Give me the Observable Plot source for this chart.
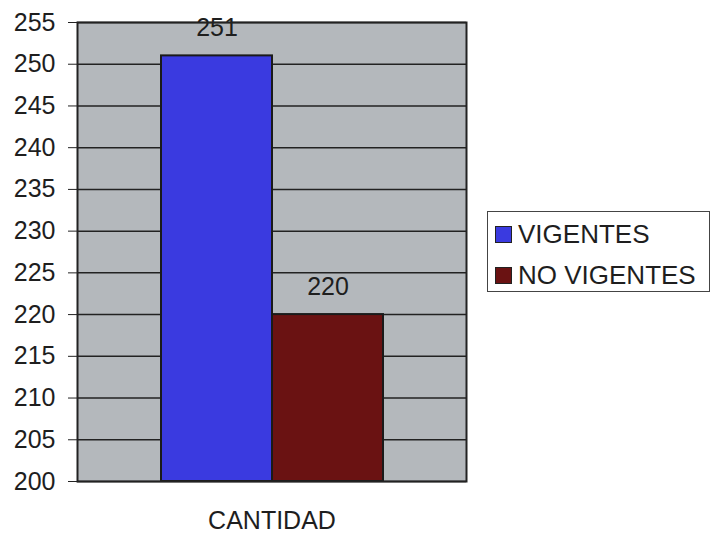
<!DOCTYPE html>
<html><head><meta charset="utf-8">
<script src="https://cdn.jsdelivr.net/npm/d3@7"></script>
<script src="https://cdn.jsdelivr.net/npm/@observablehq/plot@0.6"></script>
<style>
body{margin:0;background:#fff;font-family:"Liberation Sans",Arial,sans-serif;}
#wrap{position:relative;width:711px;height:534px;overflow:hidden;}
#legend{position:absolute;left:487px;top:211px;width:223px;height:81px;border:1px solid #444;box-sizing:border-box;background:#fff;}
.item{position:absolute;left:7px;display:flex;align-items:center;font-size:26px;line-height:26px;color:#1e1e1e;white-space:nowrap;}
.sw{width:17px;height:17px;border:1px solid #222;margin-right:6px;box-sizing:border-box;}
</style></head>
<body><div id="wrap"><div id="legend"></div></div>
<script>
const categories = ["VIGENTES", "NO VIGENTES"];
const values = [251, 220];
const colors = ["#3a3ae0", "#6a1212"];
const yTicks = [200,205,210,215,220,225,230,235,240,245,250,255];
const axisLabel = "CANTIDAD";

const data = categories.map((c, i) => ({cat: c, value: values[i], color: colors[i]}));

const chart = Plot.plot({
  width: 711, height: 534,
  marginLeft: 77, marginRight: 245, marginTop: 22, marginBottom: 53,
  style: {fontFamily: "'Liberation Sans', Arial, sans-serif", fontSize: "25px", color: "#1e1e1e", background: "transparent"},
  x: {domain: categories, paddingInner: 0, paddingOuter: 0.737, axis: null},
  y: {domain: [200, 255], ticks: yTicks, tickSize: 9, tickPadding: 13, label: null, tickFormat: d => String(d)},
  marks: [
    Plot.frame({fill: "#b4b8bc"}),
    Plot.gridY(yTicks, {stroke: "#222", strokeOpacity: 1, strokeWidth: 1.5}),
    Plot.axisY({ticks: yTicks, tickSize: 9, tickPadding: 13, fontSize: 25, label: null, stroke: "#222"}),
    Plot.barY(data, {x: "cat", y1: 200, y2: "value", fill: "color", stroke: "#1a1a1a", strokeWidth: 2, inset: 0}),
    Plot.text(data, {x: "cat", y: "value", text: d => String(d.value), dy: -28, fontSize: 25, fill: "#1e1e1e", lineAnchor: "middle"}),
    Plot.frame({stroke: "#222", strokeWidth: 2}),
    Plot.text([axisLabel], {frameAnchor: "bottom", dy: 39, fontSize: 25, fill: "#1e1e1e", lineAnchor: "middle"})
  ]
});
document.getElementById("wrap").prepend(chart);

const legend = document.getElementById("legend");
categories.forEach((c, i) => {
  const it = document.createElement("div");
  it.className = "item";
  it.style.top = (i === 0 ? 9 : 50) + "px";
  const sw = document.createElement("div");
  sw.className = "sw"; sw.style.background = colors[i];
  it.appendChild(sw);
  it.appendChild(document.createTextNode(c));
  legend.appendChild(it);
});
</script></body></html>
